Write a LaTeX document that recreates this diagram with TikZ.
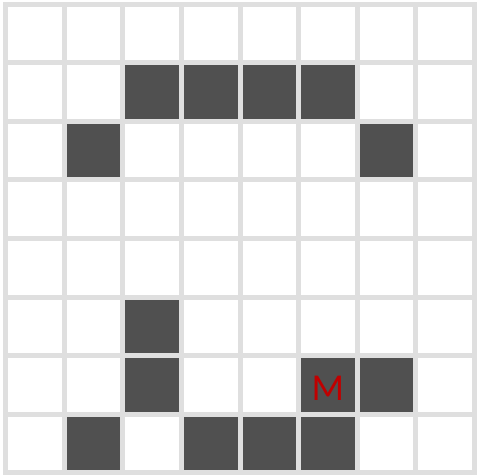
\documentclass[tikz,border=0pt]{standalone}
\usepackage{fontspec}
\setmainfont{Carlito}
\definecolor{gridgray}{HTML}{DFDFDF}
\definecolor{cellgray}{HTML}{505050}
\definecolor{mred}{HTML}{C00000}
\tikzset{
  darkcell/.style={fill=cellgray},
  gridline/.style={draw=gridgray, line width=5pt, line cap=rect},
  mlabel/.style={text=mred, font=\fontsize{38}{38}\selectfont, inner sep=0pt}
}
\begin{document}
\begin{tikzpicture}[x=1pt,y=-1pt]
\useasboundingbox (0,0) rectangle (478,475);
\fill[white] (0,0) rectangle (478,475);
\begin{scope}[shift={(5.5,4)}, x=58.625pt, y=-58.6pt]
  \foreach \c/\r in {2/1,3/1,4/1,5/1, 1/2,6/2, 2/5, 2/6,5/6,6/6, 1/7,3/7,4/7,5/7}
    \fill[darkcell] (\c,\r) rectangle (\c+1,\r+1);
  \foreach \i in {0,...,8} {
    \draw[gridline] (\i,0) -- (\i,8);
    \draw[gridline] (0,\i) -- (8,\i);
  }
  \node[mlabel] (m) at (5.5,6.56) {M};
\end{scope}
\end{tikzpicture}
\end{document}
